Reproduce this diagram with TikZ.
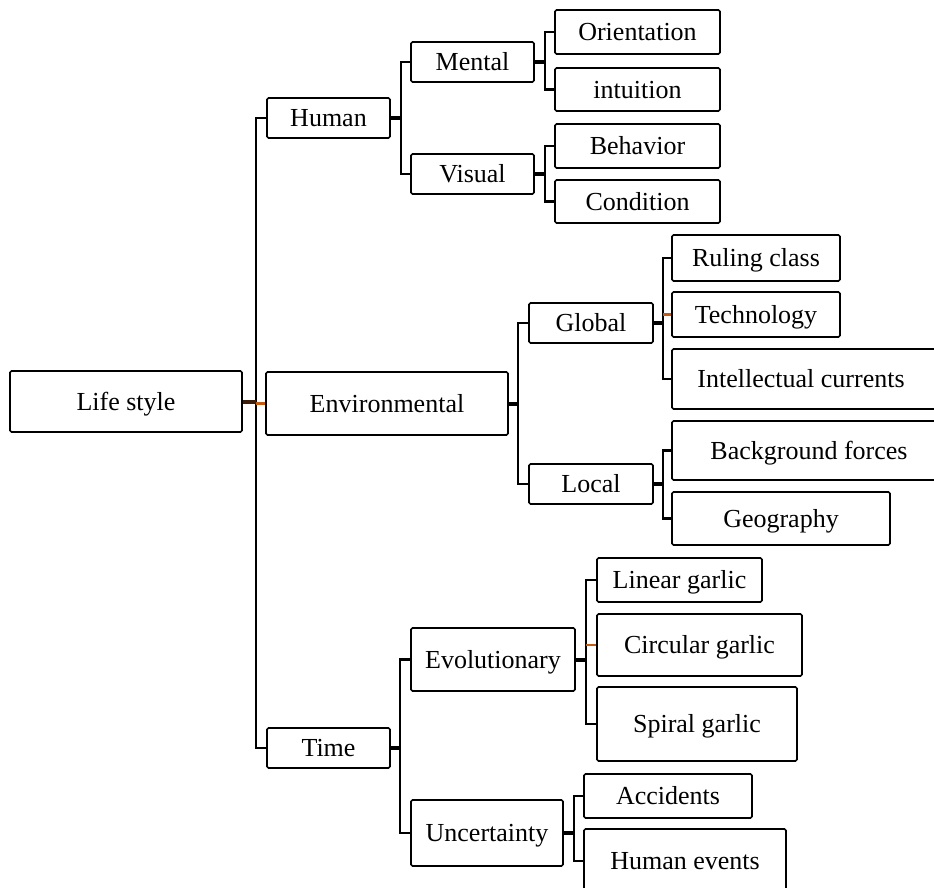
\documentclass[tikz,border=0pt]{standalone}
\usepackage{fontspec}
\setmainfont{Liberation Serif}
\definecolor{acc}{RGB}{197,90,17}
\definecolor{darkacc}{RGB}{60,30,10}
\tikzset{
  box/.style={draw=black, line width=1.7pt, rounded corners=1.5pt, inner sep=0pt,
    text height=17.5pt, text depth=0pt,
    font=\fontsize{26}{30}\selectfont, align=center, fill=white},
  br/.style={draw=black, line width=2.8pt},
  stub/.style={draw=black, line width=4pt},
  accline/.style={draw=acc, line width=2.6pt},
}
\newcommand{\bx}[6]{\node[box, minimum width=#4pt, minimum height=#5pt] (#1) at (#2,#3) {#6};}
\begin{document}
\begin{tikzpicture}[x=1pt,y=-1pt]
\path[use as bounding box, clip] (0,0) rectangle (934,888);
\fill[white] (0,0) rectangle (934,888);
% level 0/1
\bx{life}{126}{401.5}{232}{61}{Life style}
\bx{human}{328.5}{118}{123}{40}{Human}
\bx{env}{387}{403.5}{242}{63}{Environmental}
\bx{time}{328.5}{748}{123}{40}{Time}
% level 2
\bx{mental}{472.5}{62}{123}{40}{Mental}
\bx{visual}{472.5}{174}{123}{40}{Visual}
\bx{global}{591}{323}{124}{40}{Global}
\bx{local}{591}{484}{124}{40}{Local}
\bx{evol}{493}{659.5}{164}{63}{Evolutionary}
\bx{uncert}{487}{833}{152}{66}{Uncertainty}
% level 3
\bx{orient}{637.5}{32}{165}{44}{Orientation}
\bx{intuit}{637.5}{89.5}{165}{43}{intuition}
\bx{behav}{637.5}{146}{165}{44}{Behavior}
\bx{cond}{637.5}{201.5}{165}{43}{Condition}
\bx{ruling}{756}{258}{168}{46}{Ruling class}
\bx{tech}{756}{314.5}{168}{45}{Technology}
\bx{intel}{810}{379}{276}{60}{\hspace*{-18pt}Intellectual currents}
\bx{bg}{811}{450.5}{278}{59}{\hspace*{-4pt}Background forces}
\bx{geo}{781}{518.5}{218}{53}{Geography}
\bx{linear}{679.5}{580}{165}{44}{Linear garlic}
\bx{circ}{699.5}{645}{205}{62}{Circular garlic}
\bx{spiral}{697}{724}{200}{74}{Spiral garlic}
\bx{accid}{668}{796}{168}{44}{Accidents}
\bx{hev}{685}{861}{202}{64}{Human events}
% bracket coordinates
\coordinate (trunk) at (256,0);
\coordinate (bhum) at (401,0);
\coordinate (bmen) at (545,0);
\coordinate (benv) at (518,0);
\coordinate (bglo) at (663,0);
\coordinate (btim) at (400,0);
\coordinate (bevo) at (586,0);
\coordinate (bunc) at (574,0);
% trunk
\draw[br] (human.west) -- (human.west -| trunk) |- (time.west);
\draw[line width=4pt, draw=darkacc] (life.east) -- (life.east -| trunk);
\draw[accline, line width=3pt] (env.west -| trunk) -- (env.west);
% human
\draw[br] (mental.west) -- (mental.west -| bhum) |- (visual.west);
\draw[stub] (human.east) -- (human.east -| bhum);
\draw[br] (orient.west) -- (orient.west -| bmen) |- (intuit.west);
\draw[stub] (mental.east) -- (mental.east -| bmen);
\draw[br] (behav.west) -- (behav.west -| bmen) |- (cond.west);
\draw[stub] (visual.east) -- (visual.east -| bmen);
% environmental
\draw[br] (global.west) -- (global.west -| benv) |- (local.west);
\draw[stub] (env.east) -- (env.east -| benv);
\draw[br] (ruling.west) -- (ruling.west -| bglo) |- (intel.west);
\draw[accline] (tech.west) -- (tech.west -| bglo);
\draw[stub] (global.east) -- (global.east -| bglo);
\draw[br] (bg.west) -- (bg.west -| bglo) |- (geo.west);
\draw[stub] (local.east) -- (local.east -| bglo);
% time
\draw[br] (evol.west) -- (evol.west -| btim) |- (uncert.west);
\draw[stub] (time.east) -- (time.east -| btim);
\draw[br] (linear.west) -- (linear.west -| bevo) |- (spiral.west);
\draw[accline] (circ.west) -- (circ.west -| bevo);
\draw[stub] (evol.east) -- (evol.east -| bevo);
\draw[br] (accid.west) -- (accid.west -| bunc) |- (hev.west);
\draw[stub] (uncert.east) -- (uncert.east -| bunc);
\end{tikzpicture}
\end{document}
